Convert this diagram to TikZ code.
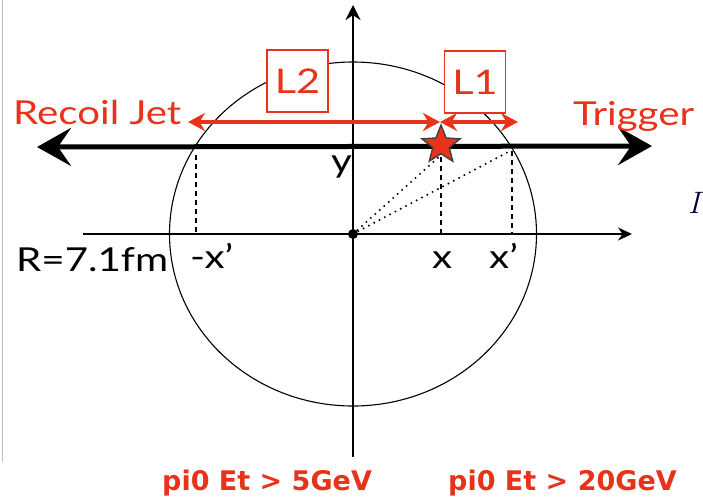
\documentclass[tikz,border=0pt]{standalone}
\usepackage{fontspec}
\usepackage{xcolor}
\usetikzlibrary{arrows.meta,shapes.geometric}

\newfontfamily\gillfont[FakeStretch=1.22]{Lato}
\newfontfamily\heavyfont{DejaVu Sans}
\definecolor{jetred}{RGB}{232,50,26}

\begin{document}
\begin{tikzpicture}[x=1pt, y=-1pt,
  lbl/.style={inner sep=0pt, anchor=base west, font=\gillfont\fontsize{33}{33}\selectfont},
  cutlbl/.style={inner sep=0pt, anchor=base west, text=jetred, font=\heavyfont\bfseries\fontsize{27}{27}\selectfont},
  lenbox/.style={draw=jetred, fill=white, line width=1.2pt, text=jetred, inner sep=0pt,
    minimum width=61pt, minimum height=62pt, font=\gillfont\fontsize{34}{34}\selectfont},
  lenarrow/.style={jetred, line width=3.5pt,
    arrows={Stealth[length=17pt,width=18pt]-Stealth[length=17pt,width=18pt]}},
  proj/.style={line width=2.4pt, dash pattern=on 5pt off 4pt},
  sight/.style={line width=2.2pt, line cap=round, dash pattern=on 0pt off 6pt}]
  \useasboundingbox (0,0) rectangle (703,496);
  \draw[black!25, line width=1pt] (2,0) -- (2,462);

  % axes and nucleus
  \coordinate (O) at (353,234);
  \coordinate (ytop) at (353,5);
  \coordinate (ybot) at (353,457);
  \coordinate (xleft) at (83,234);
  \coordinate (xright) at (632,234);
  \draw[line width=1.1pt] (O) ellipse [x radius=183.5, y radius=172];
  \draw[line width=2.5pt, -{Stealth[length=15pt,width=15pt]}] (ybot) -- (ytop);
  \draw[line width=2pt, -{Stealth[length=14pt,width=13pt]}] (xleft) -- (xright);
  \fill (O) circle (5);

  % jet axis
  \coordinate (jleft) at (37,147);
  \coordinate (jright) at (652,146);
  \coordinate (xpl) at (196,147);
  \coordinate (xpr) at (512,147);
  \draw[line width=5pt, arrows={Stealth[length=34pt,width=38pt,inset=13pt]-Stealth[length=34pt,width=38pt,inset=13pt]}]
    (jleft) -- (jright);

  % production point
  \coordinate (pi) at (441,145);
  \draw[proj] ([yshift=-12pt]pi) -- (pi |- O);
  \draw[proj] ([yshift=-8pt]xpl) -- (xpl |- O);
  \draw[proj] ([yshift=-4pt]xpr) -- (xpr |- O);
  \draw[sight] (O) -- ([yshift=-10pt]pi);
  \draw[sight] (O) -- ([yshift=-3pt]xpr);
  \node[star, star points=5, star point ratio=2.3, fill=jetred, draw=black!75, line width=1.4pt,
    minimum size=40pt, inner sep=0pt] (pizero) at (pi) {};

  % path lengths
  \coordinate (jet) at (188,122);
  \coordinate (hit) at (440,122);
  \coordinate (trig) at (518,122);
  \draw[lenarrow] (jet) -- (hit);
  \draw[lenarrow] (hit) -- (trig);
  \node[lenbox] (Ltwo) at (297.5,81) {L2};
  \node[lenbox] (Lone) at (475,82) {L1};

  % labels
  \node[lbl, text=jetred] (recoil) at (13,124) {Recoil Jet};
  \node[lbl, text=jetred] (trigger) at (573,125) {Trigger};
  \node[lbl] (ylab) at (331,172) {y};
  \node[lbl] (radius) at (16,271) {R=7.1fm};
  \node[lbl] (xplab) at (190,268) {-x’};
  \node[lbl] (xlab) at (432,268) {x};
  \node[lbl] (xprlab) at (489,268) {x’};
  \node[inner sep=0pt, anchor=base west, text=black!80!blue, font=\fontsize{31}{31}\selectfont\itshape] (cut) at (688,213) {I};
  \node[cutlbl] (lowcut) at (162,490) {pi0 Et > 5GeV};
  \node[cutlbl] (highcut) at (448,490) {pi0 Et > 20GeV};
\end{tikzpicture}
\end{document}
